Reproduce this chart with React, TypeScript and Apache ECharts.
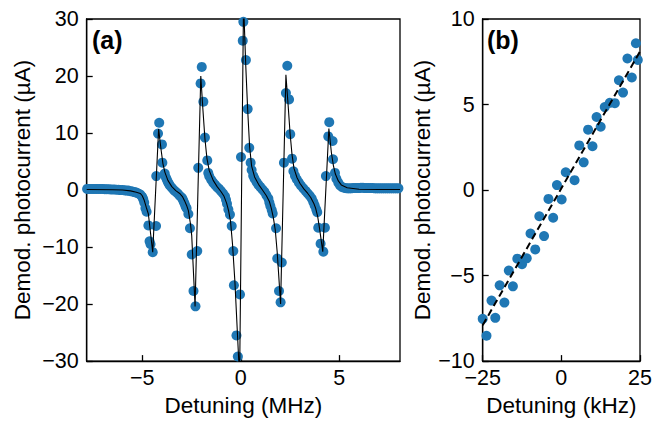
import React, { useEffect, useRef } from "react";
import * as echarts from "echarts";

// Panel (a): measured points
const detuningMHz = [
  -7.8, -7.7, -7.6, -7.5, -7.4, -7.3, -7.2, -7.1, -7.0, -6.9, -6.8, -6.7, -6.6, -6.5, -6.4, -6.3, -6.2, -6.1, -6.0,
  -5.9, -5.8, -5.7, -5.6, -5.5, -5.4, -5.3, -5.2, -5.1, -5.0, -4.95, -4.9, -4.84, -4.78, -4.69, -4.63, -4.58, -4.47,
  -4.3, -4.29, -4.2, -4.14, -4.0, -3.98, -3.86, -3.8, -3.75, -3.7, -3.65, -3.6, -3.5, -3.4, -3.3, -3.2, -3.1, -3.0,
  -2.95, -2.9, -2.85, -2.8, -2.75, -2.66, -2.58, -2.49, -2.4, -2.3, -2.21, -2.16, -2.04, -1.98, -1.9, -1.82, -1.7,
  -1.65, -1.6, -1.5, -1.4, -1.3, -1.2, -1.1, -1.0, -0.9, -0.8, -0.75, -0.7, -0.63, -0.55, -0.46, -0.38, -0.35, -0.22,
  -0.15, -0.04, 0.01, 0.1, 0.13, 0.26, 0.35, 0.43, 0.5, 0.55, 0.63, 0.7, 0.8, 0.9, 1.0, 1.1, 1.2, 1.3, 1.4, 1.45, 1.5,
  1.57, 1.62, 1.79, 1.85, 1.94, 2.02, 2.08, 2.19, 2.29, 2.36, 2.45, 2.51, 2.6, 2.67, 2.75, 2.84, 2.95, 3.05, 3.17, 3.3,
  3.4, 3.5, 3.6, 3.68, 3.75, 3.83, 3.88, 3.93, 4.05, 4.19, 4.27, 4.32, 4.44, 4.49, 4.66, 4.68, 4.78, 4.85, 4.95, 5.04,
  5.15, 5.3, 5.4, 5.5, 5.6, 5.7, 5.8, 5.9, 6.0, 6.1, 6.2, 6.3, 6.4, 6.5, 6.6, 6.7, 6.8, 6.9, 7.0, 7.1, 7.2, 7.3, 7.4,
  7.5, 7.6, 7.7, 7.8, 7.9, 8.0,
];
const photocurrentA = [
  0.2, 0.2, 0.2, 0.2, 0.2, 0.2, 0.2, 0.2, 0.2, 0.15, 0.15, 0.15, 0.1, 0.1, 0.1, 0.05, 0.05, 0.0, 0.0,
  -0.05, -0.1, -0.1, -0.2, -0.25, -0.35, -0.45, -0.6, -0.8, -1.2, -1.6, -2.2, -3.2, -3.8, -6.2, -9.0, -9.5, -10.9,
  -6.3, 2.45, 9.9, 11.8, 8.0, 4.8, 2.9, 2.2, 1.8, 1.4, 1.1, 0.8, 0.4, 0.0, -0.3, -0.6, -1.0, -1.3,
  -1.6, -2.0, -2.4, -2.9, -3.2, -4.2, -6.7, -11.3, -17.7, -20.4, -10.7, 3.9, 18.7, 21.6, 15.5, 9.2, 5.2,
  3.0, 2.4, 1.8, 1.3, 0.9, 0.5, 0.2, -0.2, -0.6, -1.1, -1.7, -2.4, -3.4, -4.3, -6.3, -10.7, -16.7, -25.5,
  -29.2, -18.3, 5.8, 26.2, 29.5, 22.8, 14.2, 7.4, 4.8, 3.5, 2.5, 2.0, 1.4, 0.9, 0.5, 0.1, -0.3, -0.9, -1.5, -2.2, -2.8,
  -3.5, -4.1, -6.7, -12.0, -17.7, -19.7, -12.7, 4.8, 17.0, 21.8, 15.9, 9.8, 5.5, 3.3, 2.5, 1.9, 1.3, 0.8, 0.3, -0.2,
  -0.6, -1.0, -1.5, -2.1, -2.7, -3.4, -3.9, -6.6, -9.4, -10.8, -6.6, 2.45, 9.4, 11.9, 8.6, 5.4, 3.0, 2.0, 1.3, 0.8,
  0.5, 0.35, 0.3, 0.3, 0.3, 0.35, 0.35, 0.35, 0.35, 0.4, 0.4, 0.35, 0.35, 0.35, 0.35, 0.35, 0.3, 0.3, 0.3, 0.3, 0.3, 0.3, 0.3,
  0.3, 0.3, 0.3, 0.3, 0.3, 0.3,
];
// Panel (a): fit curve
const fitMHz = [
  -7.82, -6.5, -6.0, -5.6, -5.3, -5.1, -5.0, -4.9, -4.8, -4.69, -4.47, -4.17, -4.05, -3.95, -3.85, -3.7, -3.5, -3.3,
  -3.1, -2.95, -2.85, -2.75, -2.66, -2.55, -2.49, -2.32, -2.03, -1.92, -1.82, -1.72, -1.6, -1.4, -1.2, -1.0, -0.85,
  -0.72, -0.62, -0.52, -0.42, -0.3, -0.06, 0.14, 0.25, 0.35, 0.45, 0.55, 0.7, 0.9, 1.1, 1.3, 1.45, 1.55, 1.65, 1.75,
  1.85, 2.02, 2.29, 2.4, 2.5, 2.6, 2.7, 2.85, 3.0, 3.2, 3.4, 3.55, 3.7, 3.8, 3.9, 4.0, 4.16, 4.47, 4.6, 4.7, 4.8, 4.95,
  5.1, 5.4, 6.0, 7.0, 8.08,
];
const fitA = [
  0.1, 0.05, 0.0, -0.15, -0.4, -0.6, -1.0, -1.8, -3.0, -4.2, -10.9, 10.7, 7.2, 4.6, 3.1, 1.7, 0.6, -0.1,
  -0.6, -1.2, -1.9, -2.7, -3.6, -6.0, -8.0, -20.4, 20.0, 14.0, 9.0, 5.6, 3.4, 1.7, 0.6, -0.3, -1.1,
  -2.3, -3.6, -5.5, -9.5, -16, -33, 33, 22, 14, 7.5, 4.2, 2.3, 1.0, 0.0, -1.0, -2.0, -3.2, -4.8, -7.0,
  -11, -20, 20.2, 15, 10, 6.2, 3.8, 2.2, 1.2, 0.2, -0.6, -1.3, -2.3, -3.2, -4.6, -6.8, -10.8, 10.8, 6.5, 4.3, 2.8, 1.6,
  0.9, 0.4, 0.15, 0.1, 0.1,
];
// Panel (b)
const detuningKHz = [
  -25.0, -23.8, -22.2, -21.0, -19.6, -18.1, -16.7, -15.4, -14.0, -12.5, -11.0, -9.8, -8.3, -7.0, -5.5, -4.1, -2.6,
  -1.4, 0.1, 1.4, 4.2, 5.7, 7.1, 8.5, 9.9, 11.2, 12.5, 13.8, 15.4, 17.0, 18.3, 19.6, 21.0, 22.4, 23.7, 24.3,
];
const photocurrentB = [
  -7.53, -8.52, -6.46, -7.47, -5.57, -6.58, -4.71, -5.63, -4.01, -4.34, -3.99, -2.54, -3.47, -1.53, -2.69, -0.52,
  -1.62, 0.29, -0.55, 1.04, 0.58, 2.61, 1.62, 3.53, 2.56, 4.27, 3.7, 4.85, 5.1, 5.08, 6.42, 5.7, 7.69, 6.58, 8.58, 7.61,
];
const fitKHz = [-25, 25];
const fitB = [-7.9, 8.1];

const ticksA = [-5, 0, 5];
const FONT = "Liberation Sans, Arial, sans-serif";
const BLUE = "#1f77b4";

const fmt = (v: number) => String(v).replace("-", "\u2212");

export default function App() {
  const ref = useRef<HTMLDivElement>(null);
  useEffect(() => {
    if (!ref.current) return;
    const chart = echarts.init(ref.current, undefined, { renderer: "svg" });
    const axisCommon = {
      axisLine: { show: true, onZero: false, lineStyle: { color: "#000", width: 1.3 } },
      axisTick: { show: true, inside: true, length: 6, lineStyle: { color: "#000", width: 1.3 } },
      splitLine: { show: false },
      nameLocation: "middle" as const,
      nameTextStyle: { fontFamily: FONT, fontSize: 22.5, color: "#000" },
    };
    const labelCommon = { fontFamily: FONT, fontSize: 21.5, color: "#000", formatter: fmt };
    chart.setOption({
      animation: false,
      grid: [
        { left: 86.7, top: 19, width: 313.3, height: 343.3, show: true, borderColor: "#000", borderWidth: 1.3, containLabel: false },
        { left: 482.7, top: 19, width: 157.3, height: 343.3, show: true, borderColor: "#000", borderWidth: 1.3, containLabel: false },
      ],
      xAxis: [
        {
          ...axisCommon,
          gridIndex: 0,
          type: "value",
          min: -7.82,
          max: 8.08,
          name: "Detuning (MHz)",
          nameGap: 32,
          axisTick: { ...axisCommon.axisTick, customValues: ticksA },
          axisLabel: { ...labelCommon, margin: 6, customValues: ticksA },
        },
        {
          ...axisCommon,
          gridIndex: 1,
          type: "value",
          min: -25,
          max: 25,
          interval: 25,
          name: "Detuning (kHz)",
          nameGap: 32,
          axisLabel: { ...labelCommon, margin: 6 },
        },
      ],
      yAxis: [
        {
          ...axisCommon,
          gridIndex: 0,
          type: "value",
          min: -30,
          max: 30,
          interval: 10,
          name: "Demod. photocurrent (\u00b5A)",
          nameGap: 53,
          axisLabel: { ...labelCommon, margin: 8 },
        },
        {
          ...axisCommon,
          gridIndex: 1,
          type: "value",
          min: -10,
          max: 10,
          interval: 5,
          name: "Demod. photocurrent (\u00b5A)",
          nameGap: 43,
          axisLabel: { ...labelCommon, margin: 8 },
        },
      ],
      series: [
        {
          type: "scatter",
          xAxisIndex: 0,
          yAxisIndex: 0,
          symbolSize: 10,
          itemStyle: { color: BLUE, opacity: 1 },
          data: detuningMHz.map((x, i) => [x, photocurrentA[i]]),
          z: 2,
        },
        {
          type: "line",
          xAxisIndex: 0,
          yAxisIndex: 0,
          showSymbol: false,
          symbol: "none",
          lineStyle: { color: "#000", width: 1.1 },
          data: fitMHz.map((x, i) => [x, fitA[i]]),
          clip: true,
          z: 3,
        },
        {
          type: "scatter",
          xAxisIndex: 1,
          yAxisIndex: 1,
          symbolSize: 10,
          itemStyle: { color: BLUE, opacity: 1 },
          data: detuningKHz.map((x, i) => [x, photocurrentB[i]]),
          z: 2,
        },
        {
          type: "line",
          xAxisIndex: 1,
          yAxisIndex: 1,
          symbol: "none",
          lineStyle: { color: "#000", width: 2, type: [7, 4] },
          data: fitKHz.map((x, i) => [x, fitB[i]]),
          z: 3,
        },
      ],
      graphic: [
        { type: "text", left: 92, top: 27, style: { text: "(a)", font: `bold 25px ${FONT}`, fill: "#000" } },
        { type: "text", left: 487, top: 27, style: { text: "(b)", font: `bold 25px ${FONT}`, fill: "#000" } },
      ],
    });
    return () => chart.dispose();
  }, []);
  return <div ref={ref} style={{ position: "absolute", left: 0, top: 0, width: 667, height: 422 }} />;
}
